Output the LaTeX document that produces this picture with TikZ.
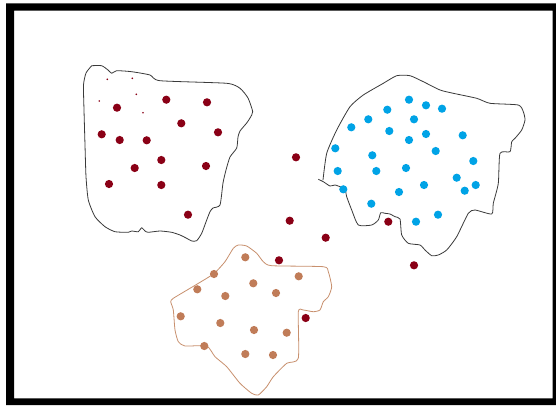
\documentclass[tikz,border=0pt]{standalone}
\definecolor{dred}{HTML}{8A0016}
\definecolor{dblue}{HTML}{00A3E6}
\definecolor{dbrown}{HTML}{C07C58}
\definecolor{lbrown}{HTML}{C8906E}
\definecolor{outl}{HTML}{3A3A3A}
\tikzset{
  reddot/.style={fill=dred},
  bluedot/.style={fill=dblue},
  browndot/.style={fill=dbrown},
  blobline/.style={draw=outl,line width=0.8pt,line join=round},
  brownline/.style={draw=lbrown,line width=0.8pt,line join=round},
}
\begin{document}
\begin{tikzpicture}[x=1pt,y=-1pt]
\useasboundingbox (0,0) rectangle (556,405);
\fill[white] (0,0) rectangle (556,405);
% frame
\fill[black,even odd rule] (6,3.3) rectangle (556,405) (14,10.7) rectangle (552.7,398.3);
% left blob
\draw[blobline] plot[smooth,tension=0.35] coordinates {
(91.7,65.7) (101.7,65.7) (108,70) (111.7,73.3) (116.7,70.7) (131.7,71.7) (150,75) (160,80.7)
(226.7,83.3) (240,88.3) (248,98) (252.7,111.7) (250,118) (246.7,123) (240,131) (238,137)
(236.7,148) (230,157) (226,170) (223,183) (220,205) (213,208) (210,211.7) (206.7,220)
(201.7,233.3) (196.7,240.7) (191.7,241) (186.7,238.3) (180,235) (171.7,232.3) (160,231)
(148.3,232.3) (145,231) (141.7,227.7) (138.3,231.7) (131.7,231) (128.3,232.3) (115,231.7)
(105,226.7) (95,216.7) (88.3,200) (86,176.7) (85,145) (84,110) (83.5,85) (86,73) (91.7,65.7)};
% right blob
\draw[blobline] plot[smooth,tension=0.35] coordinates {
(318.3,179.3) (323.3,181.7) (330,186) (335,185) (341.7,187.3) (345,188.3) (346.7,196.7)
(351.7,210) (358.3,225) (371.7,225) (378.3,220) (380.7,212.7) (385,213.3) (390,214)
(395,216.7) (400,219) (401.7,235) (408.3,243.3) (420,245) (425,250) (431.7,255.7)
(438.3,255) (446.7,250) (456.7,236.7) (468.3,213.3) (475,210) (491.7,214) (493.3,203.3)
(498.3,183.3) (500,153.3) (510,151.7) (511.7,141.7) (515,138.3) (521.7,130) (525,120)
(523.3,111.7) (518.3,105) (490,103.3) (476.7,98.3) (453.3,93.3) (440,90) (423.3,81.7)
(410,75.7) (396.7,75.7) (383.3,83.3) (363.3,95) (350,106.7) (336.7,130) (326.7,153.3) (323,180)};
% bottom blob
\draw[brownline] plot[smooth cycle,tension=0.35] coordinates {
(238.3,245) (246.7,246) (256.7,253.3) (263.3,261.7) (271.7,265.7) (323.3,266.7) (328.3,271.7)
(331.7,286.7) (328.3,296.7) (323.3,301.7) (320,310) (313.3,311.7) (303.3,310) (298.3,311.7)
(298.3,358.3) (286.7,363.3) (273.3,376.7) (266.7,386.7) (258.3,395) (251.7,393.3) (240,383.3)
(226.7,366.7) (215,356.7) (206.7,346) (185,346) (178.3,341.7) (175,330) (173.3,310)
(170.7,301.7) (173.3,298.3) (190,288.3) (206.7,278.3) (215,272.7) (225,261.7) (233.3,248.3)};
% small dots
\foreach \p in {(107.3,79.3),(132.3,78.3),(136.3,94.3),(99.3,101),(143,112.7)}
  \fill[reddot] \p circle (0.9);
% red dots
\foreach \p in {(117,107.7),(166.3,99.7),(207,102.3),(181.3,123.3),(101.7,134.3),(119.7,140),
  (146.7,140.3),(218,132.3),(161.3,160),(134.7,168),(206,166),(109,184),(161.3,185),(188,214.7),
  (296,157.3),(289.7,220.7),(325.7,237.7),(279,260.3),(388.3,221.7),(414,265.3),(305.7,318)}
  \fill[reddot] \p circle (4.1);
% blue dots
\foreach \p in {(409,99.7),(426,105.3),(442,108.7),(387.3,109.7),(368.3,119.3),(414,119.3),
  (351.3,127.3),(389.3,131),(426,134),(462.7,135.3),(409,140),(335.3,148.3),(435.7,151),
  (372.3,155.3),(473.3,161),(337.7,171),(376.3,171),(406,168),(456.7,177.7),(475.7,185),
  (464.7,190.7),(424,185),(399,192),(343.3,189.3),(371.3,203.7),(438,214.7),(416,221.7)}
  \fill[bluedot] \p circle (4.1);
% brown dots
\foreach \p in {(245.3,257.3),(214,274),(298.7,276.3),(197.3,289.3),(253.3,283.3),(276,293),
  (225.3,296),(180.7,316.3),(220.3,323),(254,330),(286.7,332.7),(204.3,346),(245.3,354),(273,355)}
  \fill[browndot] \p circle (4.1);
\end{tikzpicture}
\end{document}
